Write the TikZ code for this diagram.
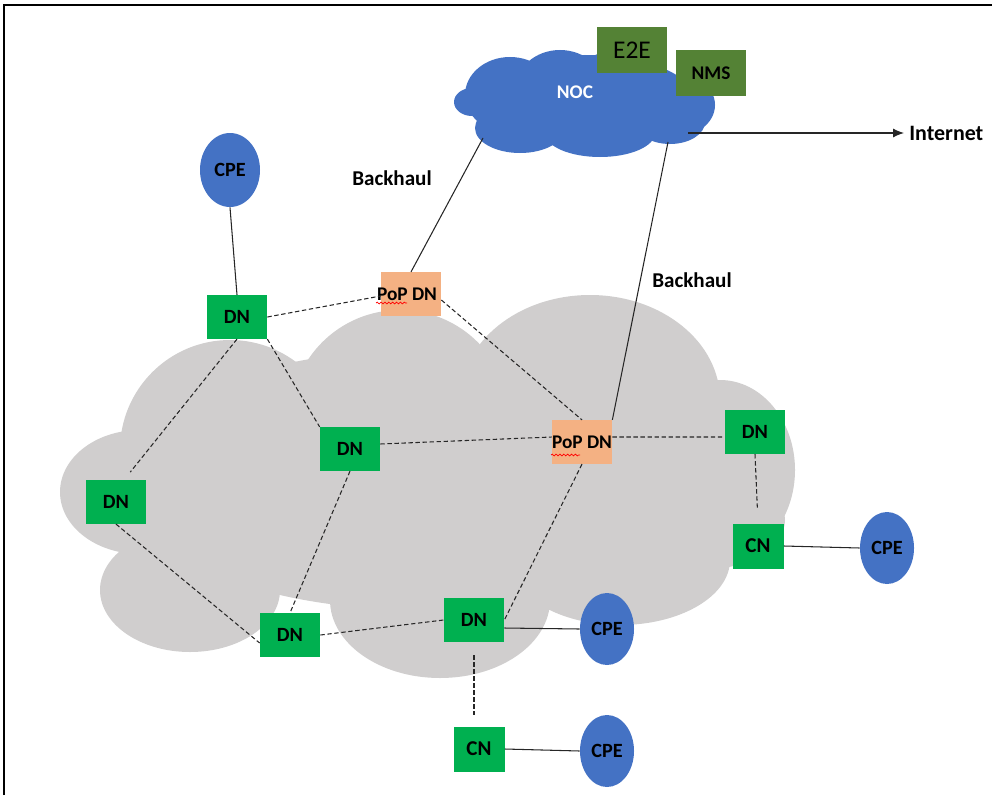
\documentclass[tikz,border=0pt]{standalone}
\usepackage{fontspec}
\setmainfont{Carlito}
\usetikzlibrary{shapes.geometric,arrows.meta,calc,decorations.pathmorphing}
\definecolor{dngreen}{RGB}{0,176,80}
\definecolor{popsalmon}{RGB}{244,177,131}
\definecolor{cpeblue}{RGB}{68,114,196}
\definecolor{mgmtgreen}{RGB}{84,130,53}
\definecolor{meshgray}{RGB}{208,206,206}

\begin{document}
\begin{tikzpicture}[x=0.2mm,y=-0.2mm,
  dnode/.style={fill=dngreen,minimum width=12mm,minimum height=8.7mm,inner sep=0pt,
    font=\fontsize{11.5}{13}\selectfont\bfseries},
  cnode/.style={dnode,minimum width=10.2mm,minimum height=9mm,font=\fontsize{12}{14}\selectfont\bfseries},
  popnode/.style={dnode,fill=popsalmon,font=\fontsize{11}{13}\selectfont\bfseries},
  cpenode/.style={ellipse,fill=cpeblue,minimum width=10.8mm,minimum height=14.4mm,inner sep=0pt,
    font=\fontsize{11.5}{13}\selectfont\bfseries},
  mgmt/.style={fill=mgmtgreen,minimum width=14mm,minimum height=9mm,inner sep=0pt},
  lbl/.style={font=\fontsize{12}{14}\selectfont\bfseries},
  wired/.style={draw=black!85,line width=0.6pt},
  wless/.style={draw=black!85,line width=0.6pt,dash pattern=on 2.5pt off 1.5pt}]

  \useasboundingbox (0,0) rectangle (992,795);
  \draw[line width=1.5pt] (4,795) -- (4,5) -- (992,5);

  % mesh cloud
  \begin{scope}[meshgray]
  \fill (420,480) ellipse [x radius=300, y radius=130];
  \fill (230,450) ellipse [x radius=110, y radius=110];
  \fill (400,420) ellipse [x radius=110, y radius=110];
  \fill (590,400) ellipse [x radius=130, y radius=105];
  \fill (720,470) ellipse [x radius=75, y radius=90];
  \fill (140,492) ellipse [x radius=80, y radius=62];
  \fill (190,590) ellipse [x radius=90, y radius=62];
  \fill (440,600) ellipse [x radius=110, y radius=78];
  \fill (620,560) ellipse [x radius=110, y radius=65];
  \fill (700,520) ellipse [x radius=85, y radius=50];
  \end{scope}

  % NOC cloud
  \begin{scope}[cpeblue]
  \fill (585,100) ellipse [x radius=110, y radius=45];
  \fill (510,95) ellipse [x radius=45, y radius=38];
  \fill (560,90) ellipse [x radius=45, y radius=40];
  \fill (620,88) ellipse [x radius=50, y radius=38];
  \fill (680,105) ellipse [x radius=35, y radius=30];
  \fill (472,102) ellipse [x radius=18, y radius=14];
  \fill (520,128) ellipse [x radius=45, y radius=25];
  \fill (600,133) ellipse [x radius=55, y radius=24];
  \fill (670,122) ellipse [x radius=35, y radius=22];
  \end{scope}
  \node[white,font=\fontsize{11}{13}\selectfont\bfseries] (noc) at (575,92) {NOC};
  \node[mgmt,font=\fontsize{14.5}{16}\selectfont] (e2e) at (632,50) {E2E};
  \node[mgmt,font=\fontsize{11}{13}\selectfont\bfseries] (nms) at (711,73) {NMS};
  \coordinate (noc-l) at (483,138);
  \coordinate (noc-r) at (668,142);
  \coordinate (noc-out) at (688,133);

  \node[lbl,anchor=west,inner sep=0pt,font=\fontsize{12.5}{14}\selectfont\bfseries] (inet) at (909,133) {Internet};
  \node[lbl] (bh1) at (392,178) {Backhaul};
  \node[lbl] (bh2) at (692,280) {Backhaul};

  \node[cpenode,minimum width=12mm,minimum height=14.8mm] (cpe1) at (230,170) {CPE};
  \node[dnode] (dn1) at (237,317) {DN};
  \node[popnode] (pop1) at (411,294) {\hspace*{-1.6mm}PoP DN};
  \node[dnode] (dn2) at (350,449) {DN};
  \node[popnode] (pop2) at (582,442) {PoP DN};
  \node[dnode] (dn3) at (755,432) {DN};
  \node[dnode] (dn4) at (116,502) {DN};
  \node[dnode] (dn5) at (290,635) {DN};
  \node[dnode] (dn6) at (474,620) {DN};
  \node[cnode] (cn1) at (758,546) {CN};
  \node[cpenode] (cpe2) at (887,548) {CPE};
  \node[cpenode] (cpe3) at (607,629) {CPE};
  \node[cnode] (cn2) at (479,749) {CN};
  \node[cpenode] (cpe4) at (607,751) {CPE};

  % spell check marks
  \draw[red,line width=0.4pt,decorate,decoration={snake,amplitude=0.5pt,segment length=2.2pt}]
    ($(pop1.center)+(-35,9)$) -- ($(pop1.center)+(-4,9)$);
  \draw[red,line width=0.4pt,decorate,decoration={snake,amplitude=0.5pt,segment length=2.2pt}]
    ($(pop2.center)+(-31,13)$) -- ($(pop2.center)+(-2,13)$);

  % backhaul and uplink
  \draw[wired] (pop1.north) -- (noc-l);
  \draw[wired] (pop2.north east) -- (noc-r);
  \draw[wired,-{Latex[length=2.2mm,width=1.8mm]}] (noc-out) -- ([xshift=-1mm]inet.west);

  % wired links to CPEs
  \draw[wired] (cpe1.south) -- (dn1.north);
  \draw[wired] ([yshift=-1.6mm]dn6.east) -- (cpe3.west);
  \draw[wired] (cn1.east) -- (cpe2.west);
  \draw[wired] (cn2.east) -- (cpe4.west);

  % mesh links
  \draw[wless] (dn1.east) -- ([yshift=-0.4mm]pop1.west);
  \draw[wless] ([yshift=-1.2mm]pop1.east) -- (pop2.north);
  \draw[wless,shorten >=2mm] (dn1.south) -- ([xshift=1.6mm]dn4.north);
  \draw[wless] (dn1.south east) -- (dn2.north west);
  \draw[wless] ([yshift=1mm]dn2.east) -- ([yshift=1mm]pop2.west);
  \draw[wless] ([yshift=1mm]pop2.east) -- ([yshift=-1mm]dn3.west);
  \draw[wless,shorten >=2.6mm] (dn3.south) -- (cn1.north);
  \draw[wless] (dn4.south) -- ([yshift=-1.6mm]dn5.west);
  \draw[wless] (dn2.south) -- (dn5.north);
  \draw[wless] (dn5.east) -- (dn6.west);
  \draw[wless] (pop2.south) -- (dn6.east);
  \draw[wless,shorten <=2.6mm,shorten >=2.2mm] (dn6.south) -- (dn6.south |- cn2.north);

\end{tikzpicture}
\end{document}
